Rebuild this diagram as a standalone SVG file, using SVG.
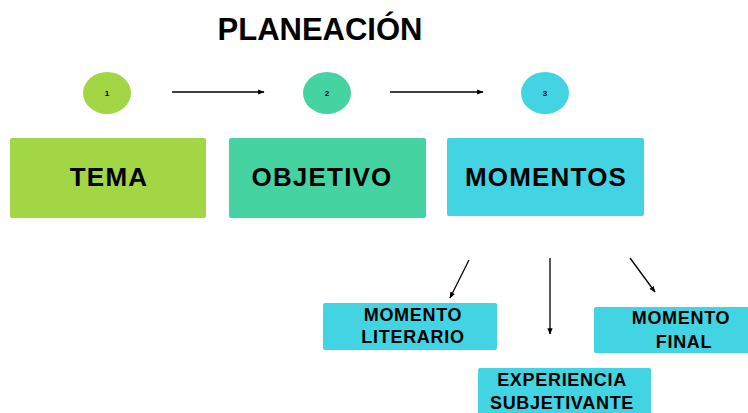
<svg xmlns="http://www.w3.org/2000/svg" width="748" height="413" viewBox="0 0 748 413">
<style>
text{font-family:"Liberation Sans",Arial,sans-serif;font-weight:bold;fill:#000;text-anchor:middle}
.big{font-size:26px;letter-spacing:1.2px}
.sm{font-size:18px;letter-spacing:0.7px}
.num{font-size:8px}
.c{stroke:#000;stroke-width:1.3;fill:none}
</style>
<defs>
<marker id="ah" viewBox="0 0 10 10" refX="9" refY="5" markerWidth="5" markerHeight="5" orient="auto"><path d="M0,1 L10,5 L0,9 z" fill="#000"/></marker>
</defs>
<rect width="748" height="413" fill="#fff"/>
<text x="320" y="40" style="font-size:31px">PLANEACIÓN</text>
<g id="n1"><ellipse cx="107" cy="93" rx="24" ry="21" fill="#A2D645"/><text class="num" x="107" y="96">1</text></g>
<g id="n2"><ellipse cx="327" cy="93" rx="24" ry="21" fill="#45D3A2"/><text class="num" x="327" y="96">2</text></g>
<g id="n3"><ellipse cx="545" cy="93" rx="24" ry="21" fill="#42D4E2"/><text class="num" x="545" y="96">3</text></g>
<g id="tema"><rect x="10" y="138" width="196" height="80" rx="2" fill="#A2D645"/><text class="big" x="109" y="186">TEMA</text></g>
<g id="objetivo"><rect x="229" y="138" width="197" height="80" rx="2" fill="#45D3A2"/><text class="big" x="322" y="186">OBJETIVO</text></g>
<g id="momentos"><rect x="447" y="138" width="197" height="78" rx="2" fill="#42D4E2"/><text class="big" x="546" y="186">MOMENTOS</text></g>
<g id="literario"><rect x="323" y="303" width="174" height="47" rx="2" fill="#42D4E2"/><text class="sm" x="413" y="321">MOMENTO</text><text class="sm" x="413" y="343">LITERARIO</text></g>
<g id="experiencia"><rect x="478" y="368" width="173" height="50" rx="2" fill="#42D4E2"/><text class="sm" x="562" y="386">EXPERIENCIA</text><text class="sm" x="562" y="409">SUBJETIVANTE</text></g>
<g id="final"><rect x="594" y="307" width="160" height="46" rx="2" fill="#42D4E2"/><text class="sm" x="681" y="324">MOMENTO</text><text class="sm" x="684" y="348">FINAL</text></g>
<g id="connectors">
<line class="c" x1="172" y1="92" x2="264" y2="92" marker-end="url(#ah)"/>
<line class="c" x1="390" y1="92" x2="483" y2="92" marker-end="url(#ah)"/>
<line class="c" x1="469" y1="260" x2="450" y2="298" marker-end="url(#ah)"/>
<line class="c" x1="550" y1="258" x2="550" y2="334" marker-end="url(#ah)"/>
<line class="c" x1="630" y1="258" x2="655" y2="292" marker-end="url(#ah)"/>
</g>
</svg>
